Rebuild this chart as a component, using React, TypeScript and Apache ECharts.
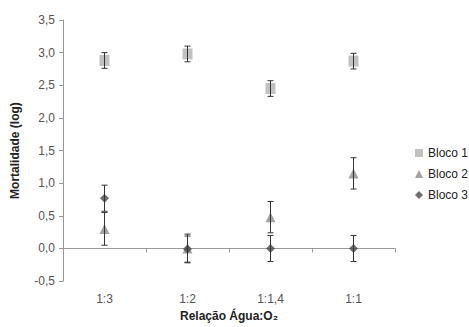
import React, { useEffect, useRef } from "react";
import * as echarts from "echarts";

const categories = ["1:3", "1:2", "1:1,4", "1:1"];
const seriesNames = ["Bloco 1", "Bloco 2", "Bloco 3"];
const bloco1 = [2.88, 2.98, 2.45, 2.87];
const bloco1Err = [0.12, 0.12, 0.12, 0.12];
const bloco2 = [0.3, 0.0, 0.48, 1.15];
const bloco2Err = [0.25, 0.22, 0.24, 0.24];
const bloco3 = [0.77, -0.01, 0.0, 0.0];
const bloco3Err = [0.2, 0.2, 0.2, 0.2];
const yTicks = { min: -0.5, max: 3.5, interval: 0.5 };

const colors = ["#b2b2b2", "#8c8c8c", "#4a4a4a"];
const symbols = ["rect", "triangle", "diamond"];
const sizes = [[10, 11], 10, 9];

export default function App() {
  const ref = useRef<HTMLDivElement>(null);
  useEffect(() => {
    if (!ref.current) return;
    const chart = echarts.init(ref.current, undefined, { renderer: "svg" });
    const values = [bloco1, bloco2, bloco3];
    const errs = [bloco1Err, bloco2Err, bloco3Err];
    const font = "Liberation Sans, Arial, sans-serif";

    const scatterSeries = values.map((vals, i) => ({
      name: seriesNames[i],
      type: "scatter",
      data: vals.map((v, j) => [j, v]),
      symbol: symbols[i],
      symbolSize: sizes[i],
      itemStyle: { color: colors[i] },
      z: 2,
    }));

    const errorSeries = values.map((vals, i) => ({
      name: seriesNames[i] + " err",
      type: "custom",
      z: 3,
      data: vals.map((v, j) => [j, v - errs[i][j], v + errs[i][j]]),
      renderItem: (params: any, api: any) => {
        const lo = api.coord([api.value(0), api.value(1)]);
        const hi = api.coord([api.value(0), api.value(2)]);
        const hw = 3;
        const style = { stroke: "#333333", lineWidth: 1 };
        return {
          type: "group",
          children: [
            { type: "line", shape: { x1: lo[0], y1: lo[1], x2: hi[0], y2: hi[1] }, style },
            { type: "line", shape: { x1: lo[0] - hw, y1: lo[1], x2: lo[0] + hw, y2: lo[1] }, style },
            { type: "line", shape: { x1: hi[0] - hw, y1: hi[1], x2: hi[0] + hw, y2: hi[1] }, style },
          ],
        };
      },
    }));

    chart.setOption({
      animation: false,
      textStyle: { fontFamily: font },
      grid: { left: 63, right: 74, top: 20, bottom: 41, containLabel: false },
      legend: {
        data: seriesNames.map((n, i) => ({ name: n, icon: symbols[i] })),
        orient: "vertical",
        left: 410,
        top: 142,
        itemWidth: 8,
        itemHeight: 8,
        itemGap: 9,
        textStyle: { fontSize: 12, color: "#222", fontFamily: font },
      },
      xAxis: {
        type: "category",
        data: categories,
        boundaryGap: true,
        name: "Relação Água:O₂",
        nameLocation: "middle",
        nameGap: 28,
        nameTextStyle: { fontSize: 12, fontWeight: "bold", color: "#222", fontFamily: font },
        axisLine: { lineStyle: { color: "#999999" } },
        axisTick: { show: true, alignWithLabel: false, length: 4, lineStyle: { color: "#999999" } },
        axisLabel: { fontSize: 12, color: "#555555", margin: 12, fontFamily: font },
        splitLine: { show: false },
      },
      yAxis: {
        type: "value",
        min: yTicks.min,
        max: yTicks.max,
        interval: yTicks.interval,
        name: "Mortalidade (log)",
        nameLocation: "middle",
        nameGap: 42,
        nameTextStyle: { fontSize: 12, fontWeight: "bold", color: "#222", fontFamily: font },
        axisLine: { show: true, lineStyle: { color: "#999999" } },
        axisTick: { show: true, length: 4, lineStyle: { color: "#999999" } },
        axisLabel: {
          fontSize: 12,
          color: "#555555",
          margin: 8,
          fontFamily: font,
          formatter: (v: number) => v.toFixed(1).replace(".", ","),
        },
        splitLine: { show: false },
      },
      series: [...scatterSeries, ...errorSeries],
    });
    return () => chart.dispose();
  }, []);
  return <div ref={ref} style={{ width: 469, height: 327, position: "absolute", left: 0, top: 0 }} />;
}
